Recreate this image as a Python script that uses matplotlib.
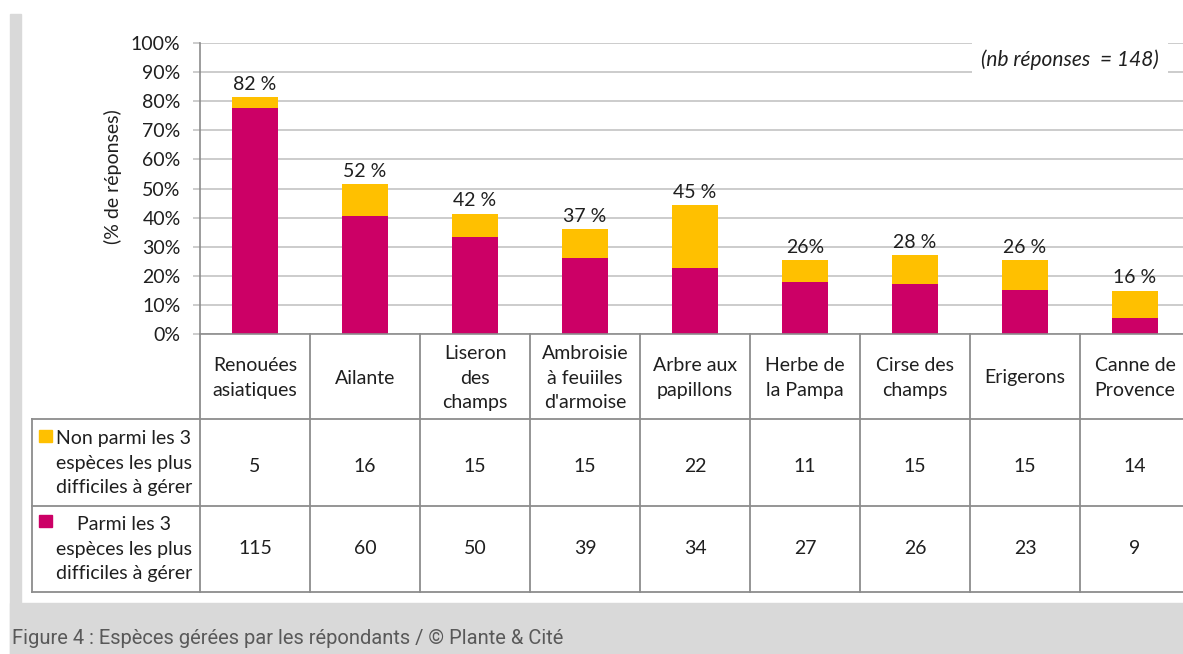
import matplotlib
matplotlib.use("Agg")
import matplotlib.pyplot as plt
from matplotlib.patches import Rectangle
from matplotlib.transforms import blended_transform_factory

plt.rcParams['font.family'] = ['Lato', 'DejaVu Sans']

# data
categories = ["Renouées\nasiatiques", "Ailante", "Liseron\ndes\nchamps",
              "Ambroisie\nà feuiiles\nd'armoise", "Arbre aux\npapillons",
              "Herbe de\nla Pampa", "Cirse des\nchamps", "Erigerons",
              "Canne de\nProvence"]
pct_parmi = [77.7, 40.5, 33.3, 26.2, 22.8, 17.8, 17.2, 15.2, 5.6]
pct_total = [81.5, 51.6, 41.4, 36.0, 44.4, 25.4, 27.2, 25.4, 14.9]
bar_labels = ["82 %", "52 %", "42 %", "37 %", "45 %", "26%", "28 %", "26 %", "16 %"]
n_non_parmi = [5, 16, 15, 15, 22, 11, 15, 15, 14]
n_parmi = [115, 60, 50, 39, 34, 27, 26, 23, 9]
row_non = "Non parmi les 3\nespèces les plus\ndifficiles à gérer"
row_parmi = "Parmi les 3\nespèces les plus\ndifficiles à gérer"
note = "(nb réponses  = 148)"
caption = "Figure 4 : Espèces gérées par les répondants / © Plante & Cité"

pct_non = [t - p for t, p in zip(pct_total, pct_parmi)]

MAGENTA = "#cc0066"
YELLOW = "#ffc000"
GRID = "#c3c3c3"
LINE = "#8c8c8c"
TXT = "#1f1f1f"
FS = 14
LS = 1.52

W, H = 1183, 654
fig = plt.figure(figsize=(W / 100, H / 100), dpi=100)
fy = lambda py: 1 - py / H

# grey page frame
fig.add_artist(Rectangle((10 / W, 0), 11 / W, fy(14), color="#d9d9d9",
                         transform=fig.transFigure, zorder=-1))
fig.add_artist(Rectangle((10 / W, 0), 1, fy(603), color="#d9d9d9",
                         transform=fig.transFigure, zorder=-1))

col_w = 110
ax = fig.add_axes([200 / W, fy(334), 9 * col_w / W, 291 / H])
x = list(range(len(categories)))
ax.bar(x, pct_parmi, width=0.41, color=MAGENTA, zorder=2)
ax.bar(x, pct_non, bottom=pct_parmi, width=0.41, color=YELLOW, zorder=2)
for i, lab in enumerate(bar_labels):
    ax.annotate(lab, (i, pct_total[i]), xytext=(0, 3), textcoords="offset points",
                ha="center", va="bottom", fontsize=FS, color=TXT)

ax.set_xlim(-0.5, 8.5)
ax.set_ylim(0, 100)
ax.set_yticks(range(0, 101, 10))
ax.set_yticklabels([f"{v}%" for v in range(0, 101, 10)], fontsize=FS, color=TXT)
ax.set_xticks([])
ax.tick_params(axis="y", length=5, color=GRID, width=1.2, pad=9)
ax.yaxis.grid(True, color=GRID, lw=1.2, zorder=0)
ax.set_axisbelow(True)
for s in ["top", "right"]:
    ax.spines[s].set_visible(False)
ax.spines["left"].set_color(LINE)
ax.spines["bottom"].set_color(LINE)
ax.spines["left"].set_linewidth(1.2)
ax.spines["bottom"].set_linewidth(1.2)

ax.text(7.41, 94.4, note, ha="center", va="center", fontsize=15, style="italic",
        color=TXT, zorder=5,
        bbox=dict(boxstyle="square,pad=0.42", fc="white", ec="none"))

fig.text(113 / W, fy(177), "(% de réponses)", rotation=90, ha="center",
         va="center", fontsize=FS, color=TXT)

# data table under the chart
tr = blended_transform_factory(ax.transData, fig.transFigure)
x_left = -0.5 - (200 - 32) / col_w
kw = dict(transform=tr, clip_on=False, color=LINE, lw=1.3)
for k in range(len(categories) + 1):
    ax.plot([k - 0.5, k - 0.5], [fy(334), fy(592)], **kw)
for py in (419, 506, 592):
    ax.plot([x_left, 8.5], [fy(py), fy(py)], **kw)
ax.plot([x_left, x_left], [fy(419), fy(592)], **kw)

for i, cat in enumerate(categories):
    ax.text(i, fy(378), cat, transform=tr, ha="center", va="center",
            fontsize=FS, color=TXT, linespacing=LS)
    ax.text(i, fy(466), str(n_non_parmi[i]), transform=tr, ha="center",
            va="center", fontsize=FS, color=TXT)
    ax.text(i, fy(549), str(n_parmi[i]), transform=tr, ha="center",
            va="center", fontsize=FS, color=TXT)

x_lab = -0.5 - (200 - 124) / col_w
ax.text(x_lab, fy(463), row_non, transform=tr, ha="center", va="center",
        fontsize=FS, color=TXT, linespacing=LS, multialignment="center")
ax.text(x_lab, fy(549), row_parmi, transform=tr, ha="center", va="center",
        fontsize=FS, color=TXT, linespacing=LS, multialignment="center")
x_sq = -0.5 - (200 - 39) / col_w
ax.add_patch(Rectangle((x_sq, fy(442)), 13 / col_w, 12 / H, color=YELLOW,
                       transform=tr, clip_on=False))
ax.add_patch(Rectangle((x_sq, fy(527)), 13 / col_w, 12 / H, color=MAGENTA,
                       transform=tr, clip_on=False))

fig.text(12 / W, fy(638), caption, ha="left", va="center", fontsize=14.5,
         color="#595959", family=["Roboto", "DejaVu Sans"])

fig.savefig("out.png", dpi=100)
